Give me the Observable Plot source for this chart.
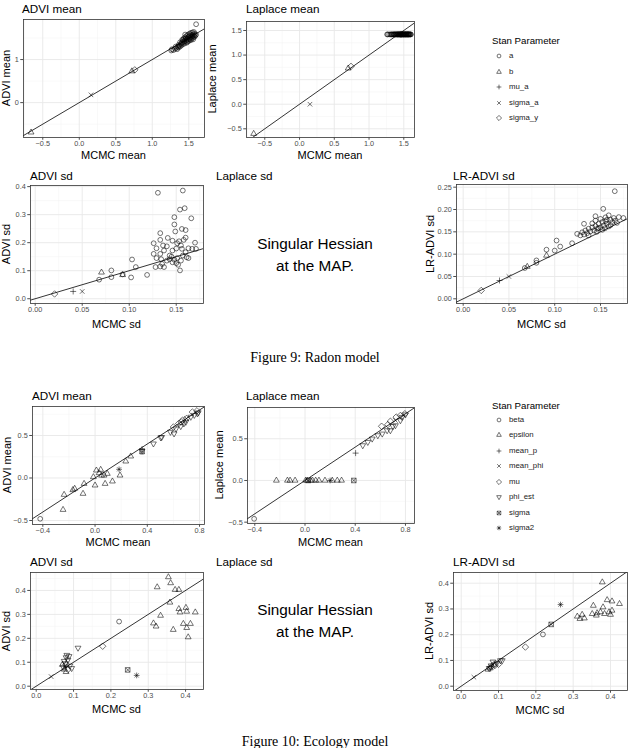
<!DOCTYPE html>
<html><head><meta charset="utf-8">
<script src="https://cdn.jsdelivr.net/npm/d3@7"></script>
<script src="https://cdn.jsdelivr.net/npm/@observablehq/plot@0.6"></script>
<style>
body{margin:0;background:#fff;}
#root{position:relative;width:630px;height:748px;overflow:hidden;font-family:"Liberation Sans",Arial,Helvetica,sans-serif;background:#fff;}
.t{position:absolute;white-space:nowrap;line-height:1;color:#000;}
.title{font-size:11.7px;transform:translate(0,-50%);}
.axt{font-size:11px;}
.xlab{transform:translate(-50%,-50%);}
.ylab{transform:translate(-50%,-50%) rotate(-90deg);}
.cap{font-family:"Liberation Serif","DejaVu Serif",serif;font-size:14px;transform:translate(-50%,-50%);}
.sing{font-size:15.3px;transform:translate(-50%,-50%);}
.legt{font-size:9.7px;transform:translate(0,-50%);}
.legi{font-size:7.8px;transform:translate(0,-50%);color:#1a1a1a;}
svg.sw{position:absolute;overflow:visible;}
</style></head><body><div id="root"></div>
<script>
// ---------------- DATA: Figure 9 (Radon model) ----------------
const radonParams = ["a", "b", "mu_a", "sigma_a", "sigma_y"];
// a (county intercepts): MCMC mean vs ADVI mean
const radonMeanA_mcmc = [1.26,1.27,1.29,1.31,1.33,1.34,1.35,1.36,1.37,1.38,1.39,1.40,1.40,1.41,1.42,1.42,1.43,1.43,1.44,1.44,1.45,1.45,1.46,1.46,1.47,1.47,1.48,1.48,1.49,1.49,1.50,1.50,1.51,1.51,1.52,1.52,1.53,1.53,1.54,1.54,1.55,1.55,1.56,1.56,1.57,1.57,1.58,1.58,1.59,1.60,1.60,1.47,1.50,1.45,1.41,1.53,1.56,1.38,1.36,1.32];
const radonMeanA_advi = [1.21,1.24,1.22,1.25,1.27,1.24,1.30,1.28,1.32,1.30,1.36,1.33,1.38,1.41,1.36,1.45,1.40,1.49,1.43,1.37,1.47,1.52,1.42,1.50,1.45,1.55,1.48,1.41,1.52,1.58,1.46,1.54,1.50,1.60,1.47,1.56,1.52,1.62,1.49,1.57,1.54,1.63,1.51,1.58,1.55,1.64,1.53,1.60,1.56,1.58,1.82,1.39,1.43,1.58,1.46,1.45,1.47,1.40,1.34,1.30];
const radonMeanA_laplace = 1.42; // every county intercept sits at the same Laplace mean
// other parameters: [param, MCMC mean, ADVI mean]
const radonAdviMeanOther = [["b",-0.66,-0.69],["b",0.72,0.73],["sigma_a",0.16,0.18],["sigma_y",0.76,0.76],["mu_a",1.46,1.47]];
// [param, MCMC mean, Laplace mean]
const radonLaplaceMeanOther = [["b",-0.66,-0.60],["b",0.70,0.73],["sigma_a",0.15,0.0],["sigma_y",0.74,0.77],["mu_a",1.46,1.42]];
// [param, MCMC sd, ADVI sd]
const radonAdviSd = [
 ["a",0.1305,0.378],["a",0.157,0.386],["a",0.154,0.318],["a",0.159,0.323],["a",0.166,0.287],["a",0.148,0.291],["a",0.148,0.265],
 ["a",0.133,0.234],["a",0.149,0.240],["a",0.156,0.249],["a",0.160,0.245],["a",0.158,0.210],["a",0.170,0.200],["a",0.160,0.218],
 ["a",0.133,0.210],["a",0.136,0.190],["a",0.126,0.198],["a",0.129,0.180],["a",0.141,0.217],["a",0.146,0.207],["a",0.151,0.198],
 ["a",0.155,0.190],["a",0.140,0.187],["a",0.150,0.179],["a",0.156,0.178],["a",0.163,0.180],["a",0.167,0.178],["a",0.160,0.166],
 ["a",0.146,0.172],["a",0.137,0.172],["a",0.133,0.160],["a",0.126,0.160],["a",0.129,0.145],["a",0.134,0.141],["a",0.140,0.136],
 ["a",0.143,0.141],["a",0.148,0.139],["a",0.151,0.145],["a",0.155,0.136],["a",0.157,0.154],["a",0.161,0.148],["a",0.163,0.145],
 ["a",0.146,0.130],["a",0.150,0.127],["a",0.135,0.124],["a",0.133,0.115],["a",0.137,0.113],["a",0.128,0.113],["a",0.154,0.101],
 ["a",0.152,0.121],["a",0.143,0.154],["a",0.171,0.178],["a",0.153,0.205],["a",0.145,0.150],
 ["a",0.103,0.140],["a",0.107,0.113],["a",0.102,0.076],["a",0.119,0.085],["a",0.081,0.101],["a",0.081,0.077],["a",0.068,0.068],["a",0.093,0.087],
 ["b",0.0705,0.094],["b",0.093,0.085],["sigma_y",0.0206,0.017],["mu_a",0.0404,0.026],["sigma_a",0.050,0.026]
];
// [param, MCMC sd, LR-ADVI sd]
const radonLrSd = [
 ["a",0.1656,0.241],["a",0.153,0.2015],["a",0.1445,0.185],["a",0.132,0.168],["a",0.159,0.187],["a",0.170,0.183],["a",0.1645,0.181],
 ["a",0.175,0.181],["a",0.1245,0.1455],["a",0.130,0.149],["a",0.1335,0.153],["a",0.137,0.157],["a",0.141,0.160],["a",0.1445,0.163],
 ["a",0.148,0.168],["a",0.152,0.172],["a",0.1555,0.174],["a",0.157,0.177],["a",0.161,0.177],["a",0.166,0.175],["a",0.150,0.160],
 ["a",0.1535,0.164],["a",0.157,0.168],["a",0.1465,0.157],["a",0.143,0.153],["a",0.139,0.151],["a",0.1355,0.147],["a",0.132,0.144],
 ["a",0.128,0.142],["a",0.1445,0.175],["a",0.141,0.169],["a",0.150,0.179],["a",0.1555,0.1825],["a",0.163,0.1715],["a",0.159,0.162],
 ["a",0.152,0.1545],["a",0.137,0.142],["a",0.148,0.158],["a",0.146,0.150],["a",0.155,0.158],["a",0.161,0.165],["a",0.168,0.170],
 ["a",0.119,0.1245],["a",0.102,0.1305],["a",0.106,0.117],["a",0.100,0.108],["a",0.091,0.110],["a",0.080,0.0806],["a",0.080,0.086],["a",0.0673,0.069],
 ["b",0.091,0.097],["b",0.070,0.072],["mu_a",0.0397,0.041],["sigma_a",0.0499,0.050],["sigma_y",0.0197,0.0187]
];

// ---------------- DATA: Figure 10 (Ecology model) ----------------
const ecoParams = ["beta","epsilon","mean_p","mean_phi","mu","phi_est","sigma","sigma2"];
// [param, MCMC mean, ADVI mean]
const ecoAdviMean = [
 ["beta",-0.42,-0.48],
 ["epsilon",-0.237,-0.196],["epsilon",-0.245,-0.373],["epsilon",-0.156,-0.125],["epsilon",-0.17,-0.14],["epsilon",-0.092,-0.184],
 ["epsilon",-0.084,-0.067],["epsilon",0.0,-0.086],["epsilon",0.010,0.090],["epsilon",0.043,0.098],["epsilon",0.069,0.031],
 ["epsilon",0.077,-0.067],["epsilon",0.133,-0.039],["epsilon",0.191,0.031],["epsilon",0.235,0.196],["epsilon",0.273,0.255],
 ["epsilon",-0.013,0.012],["epsilon",0.031,0.059],["epsilon",0.094,0.051],["epsilon",0.05,0.03],
 ["phi_est",0.36,0.32],["phi_est",0.447,0.404],["phi_est",0.503,0.475],["phi_est",0.51,0.48],["phi_est",0.577,0.541],["phi_est",0.605,0.522],
 ["phi_est",0.62,0.58],["phi_est",0.656,0.608],["phi_est",0.68,0.64],["phi_est",0.695,0.659],["phi_est",0.733,0.718],["phi_est",0.76,0.74],
 ["phi_est",0.784,0.757],["phi_est",0.79,0.77],
 ["mu",0.60,0.60],["mu",0.64,0.64],["mu",0.67,0.68],["mu",0.70,0.70],["mu",0.745,0.776],["mu",0.78,0.79],["mu",0.66,0.66],
 ["mean_p",0.36,0.34],["sigma",0.36,0.31],["sigma2",0.184,0.102],["mean_phi",0.70,0.70]
];
// [param, MCMC mean, Laplace mean]
const ecoLaplaceMean = [
 ["beta",-0.405,-0.46],
 ["epsilon",-0.228,0],["epsilon",-0.140,0],["epsilon",-0.119,0],["epsilon",-0.079,0],["epsilon",0.005,0],["epsilon",0.019,0],
 ["epsilon",0.045,0],["epsilon",0.06,0],["epsilon",0.085,0],["epsilon",0.111,0],["epsilon",0.159,0],["epsilon",0.217,0],
 ["epsilon",0.257,0],["epsilon",0.291,0],
 ["sigma",0.025,0],["sigma",0.389,0],["sigma2",0.20,0],["mean_p",0.403,0.328],
 ["phi_est",0.46,0.42],["phi_est",0.50,0.46],["phi_est",0.535,0.50],["phi_est",0.58,0.54],["phi_est",0.615,0.56],["phi_est",0.654,0.60],
 ["phi_est",0.70,0.65],["phi_est",0.72,0.66],["phi_est",0.76,0.72],["phi_est",0.773,0.76],["phi_est",0.80,0.79],["phi_est",0.68,0.60],
 ["mu",0.61,0.65],["mu",0.68,0.71],["mu",0.726,0.76],["mu",0.76,0.78],["mu",0.795,0.80],["mu",0.66,0.67],
 ["mean_phi",0.72,0.72]
];
// [param, MCMC sd, ADVI sd]
const ecoAdviSd = [
 ["epsilon",0.354,0.456],["epsilon",0.360,0.431],["epsilon",0.324,0.414],["epsilon",0.372,0.403],["epsilon",0.382,0.403],
 ["epsilon",0.358,0.350],["epsilon",0.333,0.295],["epsilon",0.382,0.323],["epsilon",0.401,0.328],["epsilon",0.426,0.309],
 ["epsilon",0.385,0.309],["epsilon",0.403,0.312],["epsilon",0.314,0.263],["epsilon",0.321,0.250],["epsilon",0.367,0.236],
 ["epsilon",0.394,0.261],["epsilon",0.403,0.244],["epsilon",0.413,0.261],["epsilon",0.407,0.205],
 ["epsilon",0.075,0.07],["epsilon",0.08,0.06],["epsilon",0.07,0.09],
 ["beta",0.222,0.270],["mu",0.178,0.167],["mu",0.08,0.09],["mu",0.085,0.07],
 ["phi_est",0.112,0.160],["phi_est",0.075,0.105],["phi_est",0.08,0.12],["phi_est",0.085,0.11],["phi_est",0.09,0.085],
 ["phi_est",0.078,0.095],["phi_est",0.072,0.08],["phi_est",0.095,0.075],["phi_est",0.082,0.13],["phi_est",0.088,0.125],
 ["sigma",0.245,0.068],["sigma2",0.269,0.045],["mean_phi",0.040,0.040],["mean_p",0.08,0.08]
];
// [param, MCMC sd, LR-ADVI sd]
const ecoLrSd = [
 ["epsilon",0.378,0.404],["epsilon",0.391,0.335],["epsilon",0.404,0.330],["epsilon",0.424,0.320],["epsilon",0.354,0.313],
 ["epsilon",0.380,0.307],["epsilon",0.311,0.271],["epsilon",0.324,0.278],["epsilon",0.318,0.262],["epsilon",0.330,0.264],
 ["epsilon",0.351,0.281],["epsilon",0.364,0.284],["epsilon",0.373,0.288],["epsilon",0.396,0.288],["epsilon",0.400,0.278],
 ["epsilon",0.384,0.281],["epsilon",0.404,0.294],["epsilon",0.362,0.275],["epsilon",0.072,0.065],["epsilon",0.078,0.070],
 ["sigma2",0.266,0.317],["sigma",0.241,0.240],["beta",0.219,0.201],["mu",0.172,0.152],["mean_phi",0.034,0.035],
 ["phi_est",0.085,0.095],["phi_est",0.09,0.085],["phi_est",0.08,0.08],["phi_est",0.075,0.07],["phi_est",0.095,0.09],
 ["phi_est",0.105,0.10],["phi_est",0.11,0.10],
 ["mu",0.08,0.075],["mu",0.09,0.08],["mu",0.10,0.085],["mean_p",0.082,0.078]
];

// ---------------- symbols (ggplot shapes 1..8) ----------------
function sym(fn){ return {draw(c, size){ const r = Math.sqrt(size/Math.PI); fn(c, r); }}; }
const SHAPES = {
  circle: sym((c,r)=>{ c.moveTo(r,0); c.arc(0,0,r,0,2*Math.PI); c.closePath(); }),
  triUp: sym((c,r)=>{ const R=1.4*r; c.moveTo(0,-R); c.lineTo(R*0.866,R*0.5); c.lineTo(-R*0.866,R*0.5); c.closePath(); }),
  plus: sym((c,r)=>{ const s=1.25*r; c.moveTo(-s,0); c.lineTo(s,0); c.moveTo(0,-s); c.lineTo(0,s); }),
  times: sym((c,r)=>{ const s=0.95*r; c.moveTo(-s,-s); c.lineTo(s,s); c.moveTo(-s,s); c.lineTo(s,-s); }),
  diamond: sym((c,r)=>{ const s=1.35*r; c.moveTo(0,-s); c.lineTo(s,0); c.lineTo(0,s); c.lineTo(-s,0); c.closePath(); }),
  triDown: sym((c,r)=>{ const R=1.4*r; c.moveTo(0,R); c.lineTo(R*0.866,-R*0.5); c.lineTo(-R*0.866,-R*0.5); c.closePath(); }),
  squareX: sym((c,r)=>{ const h=0.95*r; c.rect(-h,-h,2*h,2*h); c.moveTo(-h,-h); c.lineTo(h,h); c.moveTo(-h,h); c.lineTo(h,-h); }),
  asterisk: sym((c,r)=>{ const s=1.2*r, d=0.85*r; c.moveTo(-s,0); c.lineTo(s,0); c.moveTo(0,-s); c.lineTo(0,s);
                          c.moveTo(-d,-d); c.lineTo(d,d); c.moveTo(-d,d); c.lineTo(d,-d); })
};
const radonSymbols = {a:SHAPES.circle, b:SHAPES.triUp, mu_a:SHAPES.plus, sigma_a:SHAPES.times, sigma_y:SHAPES.diamond};
const ecoSymbols = {beta:SHAPES.circle, epsilon:SHAPES.triUp, mean_p:SHAPES.plus, mean_phi:SHAPES.times,
                    mu:SHAPES.diamond, phi_est:SHAPES.triDown, sigma:SHAPES.squareX, sigma2:SHAPES.asterisk};

// ---------------- assemble ----------------
const root = document.getElementById("root");
function txt(s, x, y, cls){ const d=document.createElement("div"); d.className="t "+cls; d.textContent=s; d.style.left=x+"px"; d.style.top=y+"px"; root.appendChild(d); return d; }

function panel(cfg){
  const mL=26, mR=3, mT=3, mB=13;
  const w = cfg.R-cfg.L, h = cfg.B-cfg.T;
  const lo = Math.min(cfg.xd[0], cfg.yd[0]), hi = Math.max(cfg.xd[1], cfg.yd[1]);
  const marks = [
    Plot.gridX(cfg.xMinor, {stroke:"#f2f2f2", strokeOpacity:1, strokeWidth:0.5}),
    Plot.gridY(cfg.yMinor, {stroke:"#f2f2f2", strokeOpacity:1, strokeWidth:0.5}),
    Plot.gridX(cfg.xTicks, {stroke:"#e8e8e8", strokeOpacity:1, strokeWidth:0.9}),
    Plot.gridY(cfg.yTicks, {stroke:"#e8e8e8", strokeOpacity:1, strokeWidth:0.9}),
    Plot.line([lo, hi], {x:d=>d, y:d=>d, stroke:"#000", strokeWidth:0.8, clip:true}),
    ...cfg.params.map(p => Plot.dot(cfg.data.filter(d=>d[0]===p), {
       x:d=>d[1], y:d=>d[2], symbol:cfg.symbols[p], r:2.4, stroke:"#000", strokeWidth:0.55, fill:"none"})),
    Plot.frame({stroke:"#333", strokeWidth:0.8}),
    Plot.axisX({ticks:cfg.xTicks, tickFormat:d3.format(cfg.xFmt), tickSize:2.75, tickPadding:1, label:null}),
    Plot.axisY({ticks:cfg.yTicks, tickFormat:d3.format(cfg.yFmt), tickSize:2.75, tickPadding:2, label:null})
  ];
  const svg = Plot.plot({
    width:w+mL+mR, height:h+mT+mB, marginLeft:mL, marginRight:mR, marginTop:mT, marginBottom:mB,
    x:{domain:cfg.xd}, y:{domain:cfg.yd},
    style:{fontSize:"7.3px", fontFamily:"'Liberation Sans', Arial, sans-serif", color:"#4d4d4d", background:"transparent", overflow:"visible"},
    marks
  });
  svg.style.position="absolute"; svg.style.left=(cfg.L-mL)+"px"; svg.style.top=(cfg.T-mT)+"px";
  root.appendChild(svg);
  txt(cfg.title, cfg.titleX ?? cfg.L, cfg.titleY, "title");
  txt(cfg.xLab, (cfg.L+cfg.R)/2, cfg.xLabY, "axt xlab");
  txt(cfg.yLab, cfg.yLabX, (cfg.T+cfg.B)/2, "axt ylab");
}

function legend(x, yTitle, yFirst, step, params, symbols){
  txt("Stan Parameter", x, yTitle, "legt");
  params.forEach((p,i)=>{
    const y = yFirst + i*step;
    const s = document.createElementNS("http://www.w3.org/2000/svg","svg");
    s.setAttribute("class","sw"); s.setAttribute("width","10"); s.setAttribute("height","10");
    s.style.left=(x+2)+"px"; s.style.top=(y-5)+"px";
    const path = document.createElementNS("http://www.w3.org/2000/svg","path");
    path.setAttribute("d", d3.symbol(symbols[p], Math.PI*1.9*1.9)());
    path.setAttribute("transform","translate(5,5)");
    path.setAttribute("fill","none"); path.setAttribute("stroke","#000"); path.setAttribute("stroke-width","0.55");
    s.appendChild(path); root.appendChild(s);
    txt(p, x+17, y, "legi");
  });
}

// Figure 9
const radonAdviMeanData = [...radonMeanA_mcmc.map((x,i)=>["a",x,radonMeanA_advi[i]]), ...radonAdviMeanOther];
const radonLaplaceMeanData = [...radonMeanA_mcmc.map(x=>["a",x,radonMeanA_laplace]), ...radonLaplaceMeanOther];

panel({L:23,R:204,T:19,B:137, xd:[-0.764,1.715], yd:[-0.81,1.93],
  xTicks:[-0.5,0,0.5,1,1.5], yTicks:[0,1], xMinor:[-0.75,-0.25,0.25,0.75,1.25], yMinor:[-0.5,0.5,1.5],
  xFmt:".1f", yFmt:"d", params:radonParams, symbols:radonSymbols, data:radonAdviMeanData,
  title:"ADVI mean", titleX:22, titleY:8.5, xLab:"MCMC mean", xLabY:154.5, yLab:"ADVI mean", yLabX:6});
panel({L:246,R:414,T:21,B:137, xd:[-0.763,1.654], yd:[-0.677,1.683],
  xTicks:[-0.5,0,0.5,1,1.5], yTicks:[-0.5,0,0.5,1,1.5], xMinor:[-0.75,-0.25,0.25,0.75,1.25], yMinor:[-0.25,0.25,0.75,1.25],
  xFmt:".1f", yFmt:".1f", params:radonParams, symbols:radonSymbols, data:radonLaplaceMeanData,
  title:"Laplace mean", titleX:246, titleY:8.8, xLab:"MCMC mean", xLabY:155, yLab:"Laplace mean", yLabX:211.5});
legend(492, 41, 56, 15.6, radonParams, radonSymbols);

panel({L:30,R:203,T:185,B:303, xd:[-0.005,0.179], yd:[-0.017,0.404],
  xTicks:[0,0.05,0.1,0.15], yTicks:[0,0.1,0.2,0.3,0.4], xMinor:[0.025,0.075,0.125,0.175], yMinor:[0.05,0.15,0.25,0.35],
  xFmt:".2f", yFmt:".1f", params:radonParams, symbols:radonSymbols, data:radonAdviSd,
  title:"ADVI sd", titleX:30, titleY:175.5, xLab:"MCMC sd", xLabY:324, yLab:"ADVI sd", yLabX:5.5});
txt("Laplace sd", 216, 175.5, "title");
txt("Singular Hessian", 315, 244, "sing");
txt("at the MAP.", 315, 266, "sing");
panel({L:456,R:627,T:184,B:303, xd:[-0.0073,0.1795], yd:[-0.0105,0.256],
  xTicks:[0,0.05,0.1,0.15], yTicks:[0,0.05,0.1,0.15,0.2,0.25], xMinor:[0.025,0.075,0.125,0.175], yMinor:[0.025,0.075,0.125,0.175,0.225],
  xFmt:".2f", yFmt:".2f", params:radonParams, symbols:radonSymbols, data:radonLrSd,
  title:"LR-ADVI sd", titleX:453, titleY:176, xLab:"MCMC sd", xLabY:324, yLab:"LR-ADVI sd", yLabX:430});
txt("Figure 9: Radon model", 315, 358, "cap");

// Figure 10
panel({L:32,R:204,T:406,B:524, xd:[-0.479,0.838], yd:[-0.547,0.841],
  xTicks:[-0.4,0,0.4,0.8], yTicks:[-0.5,0,0.5], xMinor:[-0.2,0.2,0.6], yMinor:[-0.25,0.25,0.75],
  xFmt:".1f", yFmt:".1f", params:ecoParams, symbols:ecoSymbols, data:ecoAdviMean,
  title:"ADVI mean", titleX:32, titleY:396, xLab:"MCMC mean", xLabY:542, yLab:"ADVI mean", yLabX:7});
panel({L:247,R:414,T:407,B:523, xd:[-0.458,0.872], yd:[-0.516,0.875],
  xTicks:[-0.4,0,0.4,0.8], yTicks:[-0.5,0,0.5], xMinor:[-0.2,0.2,0.6], yMinor:[-0.25,0.25,0.75],
  xFmt:".1f", yFmt:".1f", params:ecoParams, symbols:ecoSymbols, data:ecoLaplaceMean,
  title:"Laplace mean", titleX:246, titleY:396, xLab:"MCMC mean", xLabY:542, yLab:"Laplace mean", yLabX:219});
legend(492, 405.5, 420, 15.47, ecoParams, ecoSymbols);

panel({L:30,R:203,T:572,B:689, xd:[-0.0153,0.448], yd:[-0.0138,0.475],
  xTicks:[0,0.1,0.2,0.3,0.4], yTicks:[0,0.1,0.2,0.3,0.4], xMinor:[0.05,0.15,0.25,0.35], yMinor:[0.05,0.15,0.25,0.35,0.45],
  xFmt:".1f", yFmt:".1f", params:ecoParams, symbols:ecoSymbols, data:ecoAdviSd,
  title:"ADVI sd", titleX:30, titleY:561.5, xLab:"MCMC sd", xLabY:709, yLab:"ADVI sd", yLabX:6.3});
txt("Laplace sd", 216, 561.5, "title");
txt("Singular Hessian", 315, 610, "sing");
txt("at the MAP.", 315, 632, "sing");
panel({L:453,R:627,T:572,B:690, xd:[-0.0206,0.4455], yd:[-0.0167,0.4416],
  xTicks:[0,0.1,0.2,0.3,0.4], yTicks:[0,0.1,0.2,0.3,0.4], xMinor:[0.05,0.15,0.25,0.35], yMinor:[0.05,0.15,0.25,0.35],
  xFmt:".1f", yFmt:".1f", params:ecoParams, symbols:ecoSymbols, data:ecoLrSd,
  title:"LR-ADVI sd", titleX:453, titleY:562, xLab:"MCMC sd", xLabY:709.5, yLab:"LR-ADVI sd", yLabX:429});
txt("Figure 10: Ecology model", 315, 742, "cap");
</script></body></html>
